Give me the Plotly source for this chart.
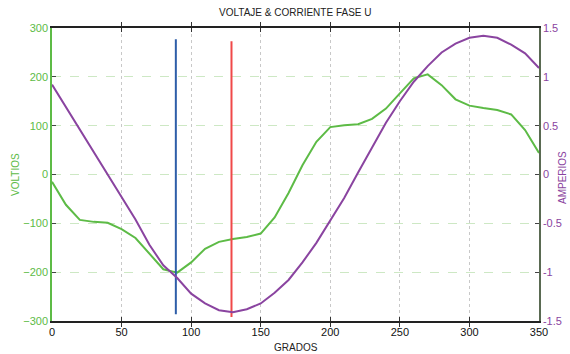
import plotly.graph_objects as go

grados = list(range(0, 351, 10))
voltios = [-15, -62, -93, -97, -99, -112, -130, -161, -194, -201, -180, -152, -138, -132, -128, -121,
           -88, -38, 19, 67, 97, 101, 103, 114, 135, 166, 197, 205, 183, 154, 141, 136, 132, 123, 91, 44]
amperios = [0.92, 0.69, 0.46, 0.23, 0.0, -0.22, -0.46, -0.72, -0.93, -1.06, -1.22, -1.32, -1.39, -1.41,
            -1.38, -1.32, -1.21, -1.08, -0.90, -0.70, -0.47, -0.24, 0.02, 0.28, 0.53, 0.75, 0.95, 1.11,
            1.25, 1.34, 1.40, 1.42, 1.40, 1.33, 1.24, 1.09]

cursor_azul_x = [89, 89]
cursor_azul_y = [277, -286]
cursor_rojo_x = [129, 129]
cursor_rojo_y = [273, -292]

GREEN = "#5dbb46"
PURPLE = "#8a44a0"
FONT = "Liberation Sans, Arial, sans-serif"

fig = go.Figure()
fig.add_trace(go.Scatter(x=grados, y=voltios, mode="lines", line=dict(color=GREEN, width=2),
                         showlegend=False, yaxis="y"))
fig.add_trace(go.Scatter(x=grados, y=amperios, mode="lines", line=dict(color=PURPLE, width=2),
                         showlegend=False, yaxis="y2"))
fig.add_trace(go.Scatter(x=cursor_azul_x, y=cursor_azul_y, mode="lines",
                         line=dict(color="#2e5ea8", width=2), showlegend=False, yaxis="y"))
fig.add_trace(go.Scatter(x=cursor_rojo_x, y=cursor_rojo_y, mode="lines",
                         line=dict(color="#f04848", width=2), showlegend=False, yaxis="y"))

W, H = 570, 354
fig.update_layout(
    width=W, height=H,
    margin=dict(l=52, r=31, t=28, b=33),
    paper_bgcolor="white", plot_bgcolor="white",
    font=dict(family=FONT, size=11, color="#111"),
    title=dict(text="VOLTAJE & CORRIENTE FASE U", x=0.518, xanchor="center", y=0.965, yanchor="middle",
               font=dict(size=10, color="#222")),
    xaxis=dict(range=[0, 350], tickvals=[0, 50, 100, 150, 200, 250, 300, 350],
               showgrid=True, gridcolor="#c8c8c8", griddash="dot", gridwidth=1,
               showline=True, linecolor="#222", linewidth=1.5, mirror="allticks",
               ticks="inside", ticklen=4, tickcolor="#333", automargin=False,
               tickfont=dict(size=11, color="#111"),
               zeroline=False),
    yaxis=dict(range=[-300, 300], tickvals=[-300, -200, -100, 0, 100, 200, 300],
               showgrid=True, gridcolor="#cde8c4", griddash="dash", gridwidth=1,
               showline=True, linecolor=GREEN, linewidth=1.5, automargin=False,
               ticks="inside", ticklen=4, tickcolor="#444",
               tickfont=dict(size=11, color=GREEN),
               zeroline=False),
    yaxis2=dict(range=[-1.5, 1.5], tickvals=[-1.5, -1, -0.5, 0, 0.5, 1, 1.5],
                ticktext=["-1.5", "-1", "-0.5", "0", "0.5", "1", "1.5"],
                overlaying="y", side="right", showgrid=False, automargin=False,
                showline=True, linecolor="#5a6a52", linewidth=1.5,
                ticks="inside", ticklen=4, tickcolor="#444",
                tickfont=dict(size=11, color=PURPLE),
                zeroline=False),
    annotations=[
        dict(text="GRADOS", xref="paper", yref="paper", x=(295.5 - 52) / 487, y=(H - 347 - 33) / 293,
             xanchor="center", yanchor="middle", showarrow=False, font=dict(size=10, color="#222")),
        dict(text="VOLTIOS", xref="paper", yref="paper", x=(15 - 52) / 487, y=(H - 175 - 33) / 293,
             xanchor="center", yanchor="middle", textangle=-90, showarrow=False,
             font=dict(size=10, color=GREEN)),
        dict(text="AMPERIOS", xref="paper", yref="paper", x=(562 - 52) / 487, y=(H - 178 - 33) / 293,
             xanchor="center", yanchor="middle", textangle=-90, showarrow=False,
             font=dict(size=10, color=PURPLE)),
    ],
)

fig.write_html("out.html")
